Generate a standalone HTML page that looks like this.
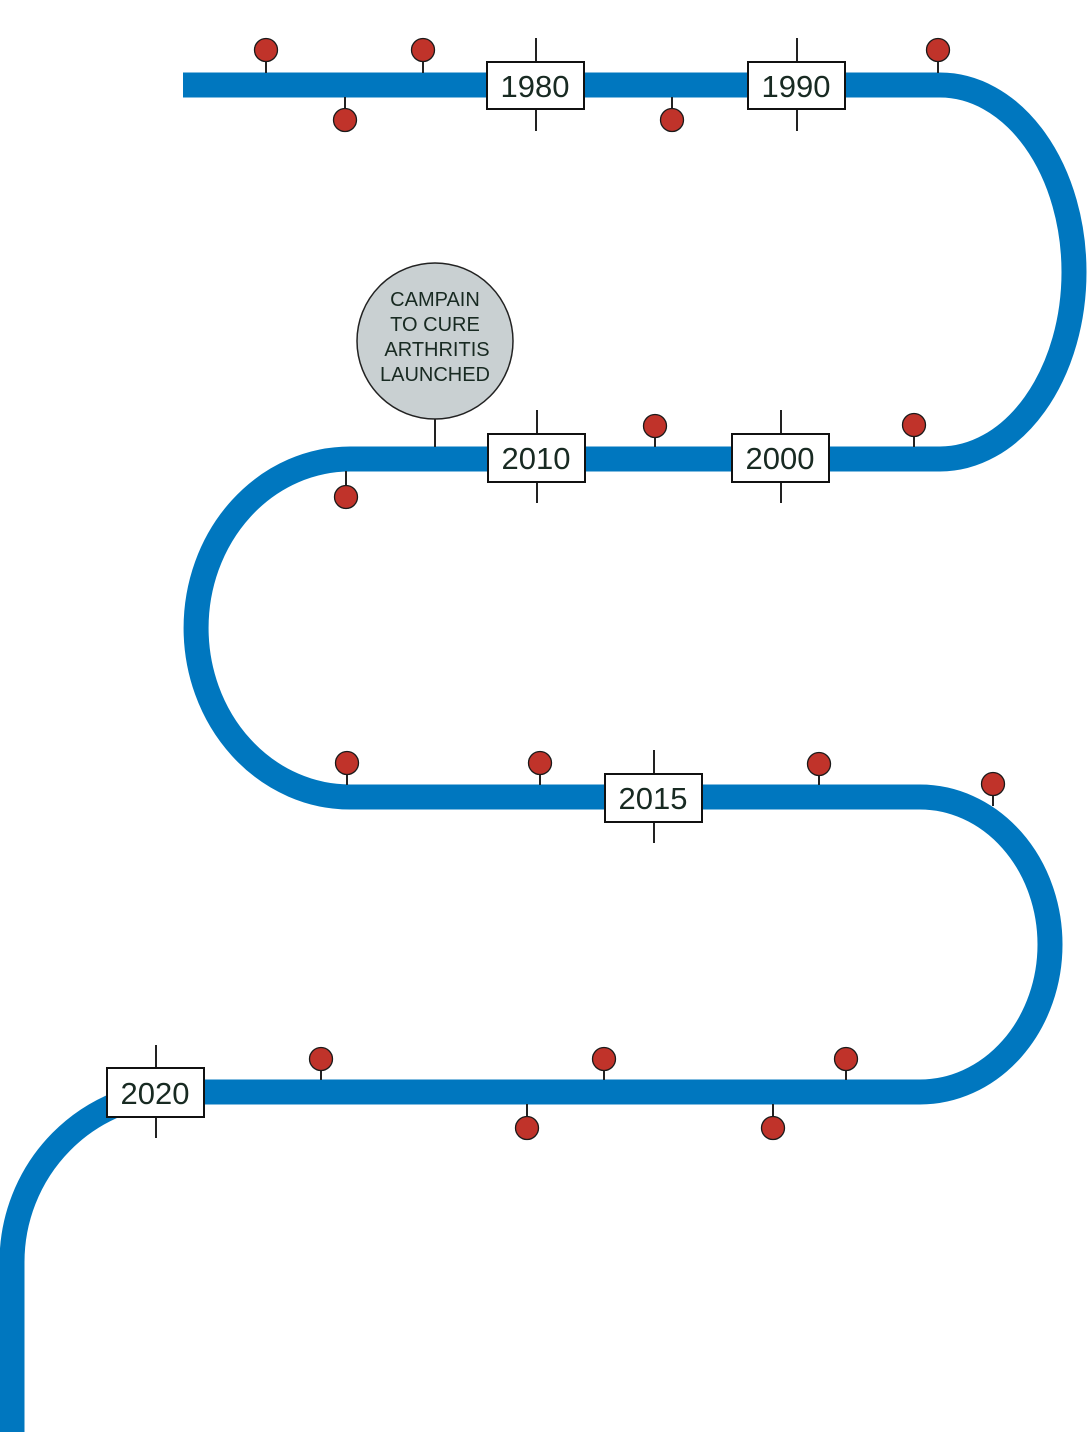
<!DOCTYPE html>
<html><head><meta charset="utf-8"><style>
html,body{margin:0;padding:0;background:#fff;}
svg{display:block;}
text{font-family:"Liberation Sans",sans-serif;fill:#182a22;}
</style></head><body>
<svg width="1087" height="1432" viewBox="0 0 1087 1432" xmlns="http://www.w3.org/2000/svg">
<path d="M183 85 L940 85 A134 187 0 0 1 940 459 L350 459 A154 169 0 0 0 350 797 L920 797 A130 147.5 0 0 1 920 1092 L180 1092 A168 170 0 0 0 12 1262 L12 1432" fill="none" stroke="#0077bf" stroke-width="25"/>
<g stroke="#222" stroke-width="2">
<line x1="536" y1="38" x2="536" y2="131"/>
<line x1="797" y1="38" x2="797" y2="131"/>
<line x1="537" y1="410" x2="537" y2="503"/>
<line x1="781" y1="410" x2="781" y2="503"/>
<line x1="654" y1="750" x2="654" y2="843"/>
<line x1="156" y1="1045" x2="156" y2="1138"/>
<line x1="435" y1="418" x2="435" y2="447"/>
<line x1="266" y1="50" x2="266" y2="73"/>
<line x1="423" y1="50" x2="423" y2="73"/>
<line x1="938" y1="50" x2="938" y2="73"/>
<line x1="345" y1="97" x2="345" y2="120"/>
<line x1="672" y1="97" x2="672" y2="120"/>
<line x1="655" y1="426" x2="655" y2="447"/>
<line x1="914" y1="425" x2="914" y2="447"/>
<line x1="346" y1="471" x2="346" y2="497"/>
<line x1="347" y1="763" x2="347" y2="785"/>
<line x1="540" y1="763" x2="540" y2="785"/>
<line x1="819" y1="764" x2="819" y2="785"/>
<line x1="993" y1="784" x2="993" y2="806"/>
<line x1="321" y1="1059" x2="321" y2="1080"/>
<line x1="604" y1="1059" x2="604" y2="1080"/>
<line x1="846" y1="1059" x2="846" y2="1080"/>
<line x1="527" y1="1104" x2="527" y2="1128"/>
<line x1="773" y1="1104" x2="773" y2="1128"/>
</g>
<g fill="#c0332a" stroke="#1a1a1a" stroke-width="1.3">
<circle cx="266" cy="50" r="11.5"/>
<circle cx="423" cy="50" r="11.5"/>
<circle cx="938" cy="50" r="11.5"/>
<circle cx="345" cy="120" r="11.5"/>
<circle cx="672" cy="120" r="11.5"/>
<circle cx="655" cy="426" r="11.5"/>
<circle cx="914" cy="425" r="11.5"/>
<circle cx="346" cy="497" r="11.5"/>
<circle cx="347" cy="763" r="11.5"/>
<circle cx="540" cy="763" r="11.5"/>
<circle cx="819" cy="764" r="11.5"/>
<circle cx="993" cy="784" r="11.5"/>
<circle cx="321" cy="1059" r="11.5"/>
<circle cx="604" cy="1059" r="11.5"/>
<circle cx="846" cy="1059" r="11.5"/>
<circle cx="527" cy="1128" r="11.5"/>
<circle cx="773" cy="1128" r="11.5"/>
</g>
<g fill="#fff" stroke="#111" stroke-width="2">
<rect x="487" y="62" width="97" height="47"/>
<rect x="748" y="62" width="97" height="47"/>
<rect x="488" y="434" width="97" height="48"/>
<rect x="732" y="434" width="97" height="48"/>
<rect x="605" y="774" width="97" height="48"/>
<rect x="107" y="1068" width="97" height="49"/>
</g>
<g font-size="31" text-anchor="middle">
<text x="535" y="97">1980</text>
<text x="796" y="97">1990</text>
<text x="536" y="469">2010</text>
<text x="780" y="469">2000</text>
<text x="653" y="809">2015</text>
<text x="155" y="1104">2020</text>
</g>
<circle cx="435" cy="341" r="78" fill="#c9d0d2" stroke="#222" stroke-width="1.5"/>
<g font-size="20" text-anchor="middle">
<text x="435" y="306">CAMPAIN</text>
<text x="435" y="331">TO CURE</text>
<text x="437" y="356">ARTHRITIS</text>
<text x="435" y="381">LAUNCHED</text>
</g>
</svg>
</body></html>
